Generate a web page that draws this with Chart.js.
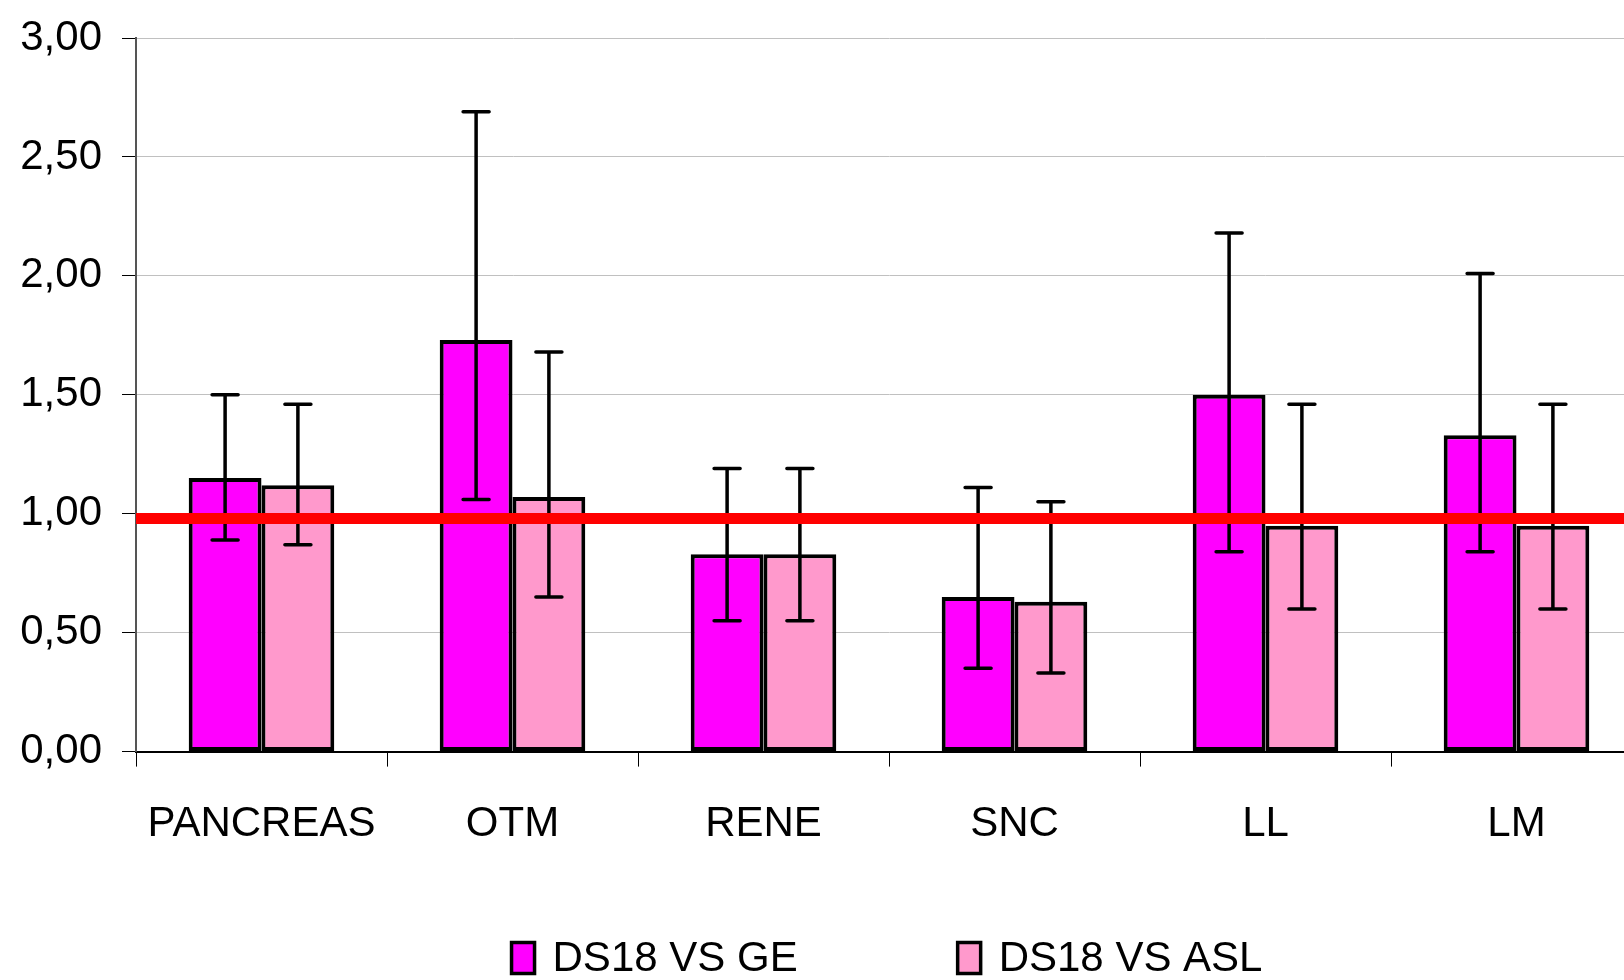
<!DOCTYPE html>
<html>
<head>
<meta charset="utf-8">
<script src="https://cdn.jsdelivr.net/npm/chart.js@4.4.0/dist/chart.umd.min.js"></script>
<style>
  html, body { margin: 0; padding: 0; background: #fff; overflow: hidden; }
  #wrap { width: 1660px; height: 980px; }
</style>
</head>
<body>
<div id="wrap"><canvas id="barChart"></canvas></div>
<script>
// categories and values
var categories = ['PANCREAS', 'OTM', 'RENE', 'SNC', 'LL', 'LM'];
var geValues = [1.15, 1.73, 0.83, 0.65, 1.50, 1.33];
var geHigh = [1.50, 2.69, 1.19, 1.11, 2.18, 2.01];
var geLow = [0.89, 1.06, 0.55, 0.35, 0.84, 0.84];
var aslValues = [1.12, 1.07, 0.83, 0.63, 0.95, 0.95];
var aslHigh = [1.46, 1.68, 1.19, 1.05, 1.46, 1.46];
var aslLow = [0.87, 0.65, 0.55, 0.33, 0.60, 0.60];
var refLine = 0.98;

var errHigh = [geHigh, aslHigh];
var errLow = [geLow, aslLow];
var font = 'Liberation Sans, Arial, sans-serif';

// error bars drawn on top of the bars
var errorBars = {
    id: 'errorBars',
    afterDatasetsDraw: function (chart) {
        var c = chart.ctx;
        var y = chart.scales.y;
        c.save();
        c.strokeStyle = '#000';
        c.lineWidth = 3.5;
        c.lineCap = 'round';
        for (var i = 0; i < 2; i++) {
            var meta = chart.getDatasetMeta(i);
            meta.data.forEach(function (bar, j) {
                var yh = y.getPixelForValue(errHigh[i][j]);
                var yl = y.getPixelForValue(errLow[i][j]);
                c.beginPath();
                c.moveTo(bar.x, yh); c.lineTo(bar.x, yl);
                c.moveTo(bar.x - 13, yh); c.lineTo(bar.x + 13, yh);
                c.moveTo(bar.x - 13, yl); c.lineTo(bar.x + 13, yl);
                c.stroke();
            });
        }
        c.restore();
    }
};

// the red reference line across the plot, then the legend underneath
var redLine = {
    id: 'redLine',
    afterDraw: function (chart) {
        var c = chart.ctx;
        var area = chart.chartArea;
        var yp = chart.scales.y.getPixelForValue(refLine);
        c.save();
        c.strokeStyle = '#ff0000';
        c.lineWidth = 11;
        c.beginPath();
        c.moveTo(area.left, yp);
        c.lineTo(area.right, yp);
        c.stroke();

        // legend
        var ds = chart.data.datasets;
        c.font = '42px ' + font;
        c.textBaseline = 'middle';
        var boxW = 23, boxH = 31, gap = 18, itemGap = 160;
        var total = 0;
        ds.forEach(function (d, i) {
            total += boxW + gap + c.measureText(d.label).width + (i < ds.length - 1 ? itemGap : 0);
        });
        var x = (area.left + area.right) / 2 - 2 - total / 2;
        var cy = 958;
        ds.forEach(function (d) {
            c.fillStyle = d.backgroundColor;
            c.fillRect(x, cy - boxH / 2, boxW, boxH);
            c.strokeStyle = '#000';
            c.lineWidth = 3.5;
            c.strokeRect(x, cy - boxH / 2, boxW, boxH);
            c.fillStyle = '#000';
            c.fillText(d.label, x + boxW + gap, cy + 1);
            x += boxW + gap + c.measureText(d.label).width + itemGap;
        });
        c.restore();
    }
};

var ctx = document.getElementById('barChart').getContext('2d');
var barChart = new Chart(ctx, {
    type: 'bar',
    data: {
        labels: categories,
        datasets: [
            {
                label: 'DS18 VS GE',
                data: geValues,
                backgroundColor: '#ff00ff',
                borderColor: '#000',
                borderWidth: 4,
                borderSkipped: false
            },
            {
                label: 'DS18 VS ASL',
                data: aslValues,
                backgroundColor: '#ff99cc',
                borderColor: '#000',
                borderWidth: 4,
                borderSkipped: false
            }
        ]
    },
    options: {
        responsive: true,
        maintainAspectRatio: false,
        animation: false,
        categoryPercentage: 0.58,
        barPercentage: 1.0,
        layout: { padding: { top: 38, right: 18, bottom: 97, left: 0 } },
        plugins: {
            tooltip: { enabled: false },
            legend: { display: false }
        },
        scales: {
            x: {
                grid: {
                    display: true,
                    drawOnChartArea: false,
                    offset: true,
                    tickLength: 15,
                    color: '#000'
                },
                border: { color: '#000', width: 2 },
                ticks: {
                    color: '#000',
                    padding: 33,
                    font: { family: font, size: 42 }
                }
            },
            y: {
                min: 0,
                max: 3,
                afterFit: function (scale) {
                    scale.width = 136;
                    scale.paddingTop = 0;
                    scale.paddingBottom = 0;
                },
                grid: {
                    color: '#c0c0c0',
                    tickColor: '#000',
                    tickLength: 14
                },
                border: { color: '#555', width: 2 },
                ticks: {
                    stepSize: 0.5,
                    color: '#000',
                    padding: 20,
                    font: { family: font, size: 42 },
                    callback: function (v) { return v.toFixed(2).replace('.', ','); }
                }
            }
        }
    },
    plugins: [errorBars, redLine]
});
</script>
</body>
</html>
